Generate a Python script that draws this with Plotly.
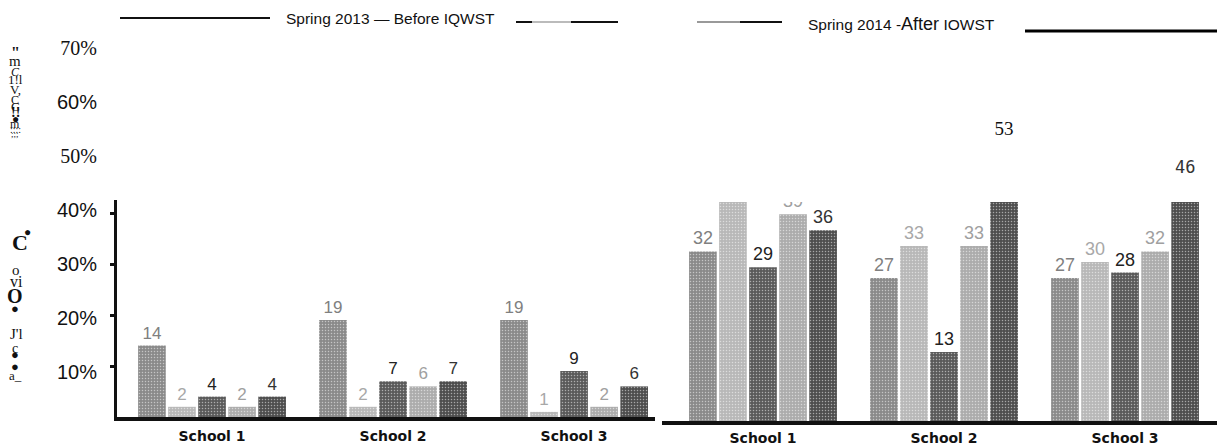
import plotly.graph_objects as go

# ---- data -------------------------------------------------------------
schools = ["School 1", "School 2", "School 3"]

# Spring 2013 (before), five measures per school, in percent
before_m1 = [14, 19, 19]
before_m2 = [2, 2, 1]
before_m3 = [4, 7, 9]
before_m4 = [2, 6, 2]
before_m5 = [4, 7, 6]

# Spring 2014 (after)
after_m1 = [32, 27, 27]
after_m2 = [45, 33, 30]
after_m3 = [29, 13, 28]
after_m4 = [39, 33, 32]
after_m5 = [36, 53, 46]

# bars in the "after" panel that carry no value label: (measure, school)
after_unlabeled = {(1, 0)}

pct_ticks = [10, 20, 30, 40, 50, 60, 70]
pct_text = ["10%", "20%", "30%", "40%",
            "<span style='font-family:Liberation Serif'>50%</span>",
            "60%",
            "<span style='font-family:Liberation Serif'>70%</span>"]

before = [before_m1, before_m2, before_m3, before_m4, before_m5]
after = [after_m1, after_m2, after_m3, after_m4, after_m5]

# ---- styling ----------------------------------------------------------
W, H = 1217, 446
bar_colors = ["#8a8a8a", "#b8b8b8", "#5a5a5a", "#acacac", "#4e4e4e"]
label_colors = ["#808080", "#a8a8a8", "#222222", "#a0a0a0", "#333333"]
BARGAP = 0.17


def fx(px):
    return px / W


def fy(py):
    return 1 - py / H


# left panel: baseline / top edge in pixels
L_BASE, L_TOP_PX, L_SCALE = 417, 200, 5.1
LEFT_TOP = (L_BASE - L_TOP_PX) / L_SCALE
# right panel: bars are cut off at R_CLIP
R_BASE, R_CLIP, R_SCALE = 421, 202, 5.3
RIGHT_TOP = (R_BASE - R_CLIP) / R_SCALE
OVER_TOP = 60  # extent of the label layer above the right panel
X2_RANGE = [-0.558, 2.508]

fig = go.Figure()

for i, vals in enumerate(before):
    fig.add_trace(go.Bar(
        x=schools, y=vals, xaxis="x", yaxis="y",
        marker=dict(color=bar_colors[i], line=dict(width=0),
                    pattern=dict(shape=".", fgcolor="#ffffff", size=3,
                                 solidity=0.2)),
        text=[str(v) for v in vals], textposition="outside",
        textfont=dict(family="Liberation Sans", size=17,
                      color=label_colors[i]),
        constraintext="none", cliponaxis=True, showlegend=False,
    ))

for i, vals in enumerate(after):
    labels = ["" if (i, j) in after_unlabeled or v > RIGHT_TOP else str(v)
              for j, v in enumerate(vals)]
    fig.add_trace(go.Bar(
        x=schools, y=vals, xaxis="x2", yaxis="y2",
        marker=dict(color=bar_colors[i], line=dict(width=0),
                    pattern=dict(shape=".", fgcolor="#ffffff", size=3,
                                 solidity=0.2)),
        text=labels, textposition="outside",
        textfont=dict(family="Liberation Sans", size=18,
                      color=label_colors[i]),
        constraintext="none", cliponaxis=True, showlegend=False,
    ))

# percentage scale on its own axis
fig.add_trace(go.Scatter(x=[schools[0]], y=[None], xaxis="x", yaxis="y3",
                         mode="markers", showlegend=False,
                         hoverinfo="skip"))

# labels of bars that rise above the clipped "after" panel, drawn on a
# taller layer with the same scale as that panel
slot = (1 - BARGAP) / 5
ov_x, ov_y, ov_t, ov_fam, ov_size, ov_col = [], [], [], [], [], []
overflow_style = {
    53: ("Liberation Serif", 19, "#111111"),
    46: ("DejaVu Sans Mono", 17, "#333333"),
}
for i, vals in enumerate(after):
    for j, v in enumerate(vals):
        if v > RIGHT_TOP and (i, j) not in after_unlabeled:
            fam, size, col = overflow_style.get(
                v, ("Liberation Sans", 18, "#333333"))
            ov_x.append(j + (i - 2) * slot)
            ov_y.append(v)
            ov_t.append(str(v))
            ov_fam.append(fam)
            ov_size.append(size)
            ov_col.append(col)

fig.add_trace(go.Scatter(
    x=ov_x, y=ov_y, text=ov_t, mode="text", textposition="top center",
    textfont=dict(family=ov_fam, size=ov_size, color=ov_col),
    xaxis="x4", yaxis="y4", cliponaxis=False, showlegend=False,
    hoverinfo="skip"))

annotations = []

# section headers
annotations.append(dict(x=fx(390), y=fy(18), xref="paper", yref="paper",
                        xanchor="center", yanchor="middle",
                        text="Spring 2013 \u2014 Before IQWST",
                        showarrow=False,
                        font=dict(family="Liberation Sans", size=15.5,
                                  color="#111")))
annotations.append(dict(x=fx(901), y=fy(24), xref="paper", yref="paper",
                        xanchor="center", yanchor="middle",
                        text="Spring 2014 -<span style='font-size:18px'>After</span> IOWST",
                        showarrow=False,
                        font=dict(family="Liberation Sans", size=15.5,
                                  color="#111")))

# vertical axis caption, as printed
caption_glyphs = [
    ("\"", 15, 52, 16, True), ("m", 15, 61, 15, False),
    ("<i>C</i>", 15, 72, 12, False), ("1!l", 15, 80, 13, False),
    ("V,", 15, 89, 13, False), ("C", 15, 100, 12, False),
    ("C", 15, 106, 13, False), ("!!", 15, 113, 14, True),
    ("\u25cf", 15, 119, 12, False), ("m", 15, 124, 12, False),
    ("::::", 15, 129, 10, False), (";;;", 15, 134, 9, False),
    ("\u25cf", 27, 232, 12, False), ("C", 20, 242, 22, True),
    ("o", 16, 270, 15, False), ("vi", 16, 281, 16, False),
    ("O", 15, 296, 20, True), ("\u25cf", 15, 308, 13, False),
    ("J'l", 16, 334, 15, False), ("c", 15, 348, 14, False),
    ("\u25cf", 15, 354, 13, False), ("\u25cf", 15, 366, 13, False),
    ("a_", 15, 375, 13, False),
]
for txt, gx, gy, gs, gb in caption_glyphs:
    annotations.append(dict(
        x=fx(gx), y=fy(gy), xref="paper", yref="paper", text=txt,
        xanchor="center", yanchor="middle", showarrow=False,
        font=dict(family="Liberation Serif", size=gs, color="#111",
                  weight="bold" if gb else "normal")))

# header rules
shapes = [
    dict(type="line", xref="paper", yref="paper", x0=fx(120), x1=fx(270),
         y0=fy(18), y1=fy(18), line=dict(color="#111", width=2)),
    dict(type="line", xref="paper", yref="paper", x0=fx(516), x1=fx(618),
         y0=fy(22), y1=fy(22), line=dict(color="#111", width=2)),
    dict(type="line", xref="paper", yref="paper", x0=fx(532), x1=fx(571),
         y0=fy(22), y1=fy(22), line=dict(color="#bbbbbb", width=2)),
    dict(type="line", xref="paper", yref="paper", x0=fx(697), x1=fx(782),
         y0=fy(22), y1=fy(22), line=dict(color="#111", width=2)),
    dict(type="line", xref="paper", yref="paper", x0=fx(697), x1=fx(740),
         y0=fy(22), y1=fy(22), line=dict(color="#999999", width=2)),
    dict(type="line", xref="paper", yref="paper", x0=fx(1025), x1=fx(1217),
         y0=fy(31), y1=fy(31), line=dict(color="#000", width=3)),
]

school_font = dict(family="DejaVu Sans", size=14, color="#111",
                   weight="bold")
hidden = dict(visible=False, automargin=False, showgrid=False,
              zeroline=False)

fig.update_layout(
    width=W, height=H, margin=dict(l=0, r=0, t=0, b=0, autoexpand=False),
    paper_bgcolor="white", plot_bgcolor="rgba(0,0,0,0)",
    barmode="group", bargap=BARGAP, bargroupgap=0.08,
    showlegend=False,
    xaxis=dict(domain=[fx(117), fx(655)], range=[-0.525, 2.447],
               anchor="y", showline=True, linewidth=4, linecolor="#111",
               ticks="", showgrid=False, zeroline=False, automargin=False,
               tickfont=school_font, ticklabelstandoff=3),
    xaxis2=dict(domain=[fx(662), 1.0], range=X2_RANGE,
                anchor="y2", showline=True, linewidth=4, linecolor="#111",
                ticks="", showgrid=False, zeroline=False, automargin=False,
                tickfont=school_font, ticklabelstandoff=1),
    xaxis4=dict(hidden, domain=[fx(662), 1.0], type="linear",
                range=X2_RANGE, anchor="y4"),
    yaxis=dict(domain=[fy(L_BASE), fy(L_TOP_PX)], range=[0, LEFT_TOP],
               anchor="x",
               showline=True, linewidth=3, linecolor="#111",
               ticks="outside", tickvals=[10, 20, 30, 40], ticklen=4,
               tickwidth=3, tickcolor="#111", showticklabels=False,
               showgrid=False, zeroline=False, automargin=False),
    yaxis2=dict(domain=[fy(R_BASE), fy(R_CLIP)], range=[0, RIGHT_TOP],
                anchor="x2", showline=False, showticklabels=False,
                ticks="", showgrid=False, zeroline=False, automargin=False),
    yaxis4=dict(hidden, domain=[fy(R_BASE), fy(R_BASE - OVER_TOP * R_SCALE)],
                range=[0, OVER_TOP], anchor="x4"),
    yaxis3=dict(domain=[fy(425.7), fy(48.2)], range=[0, 70],
                anchor="free", position=fx(97), side="left",
                showline=False, ticks="", showgrid=False, zeroline=False,
                automargin=False,
                tickvals=pct_ticks, ticktext=pct_text,
                tickfont=dict(family="Liberation Sans", size=20,
                              color="#111")),
    annotations=annotations, shapes=shapes,
)

fig.write_html("out.html")
